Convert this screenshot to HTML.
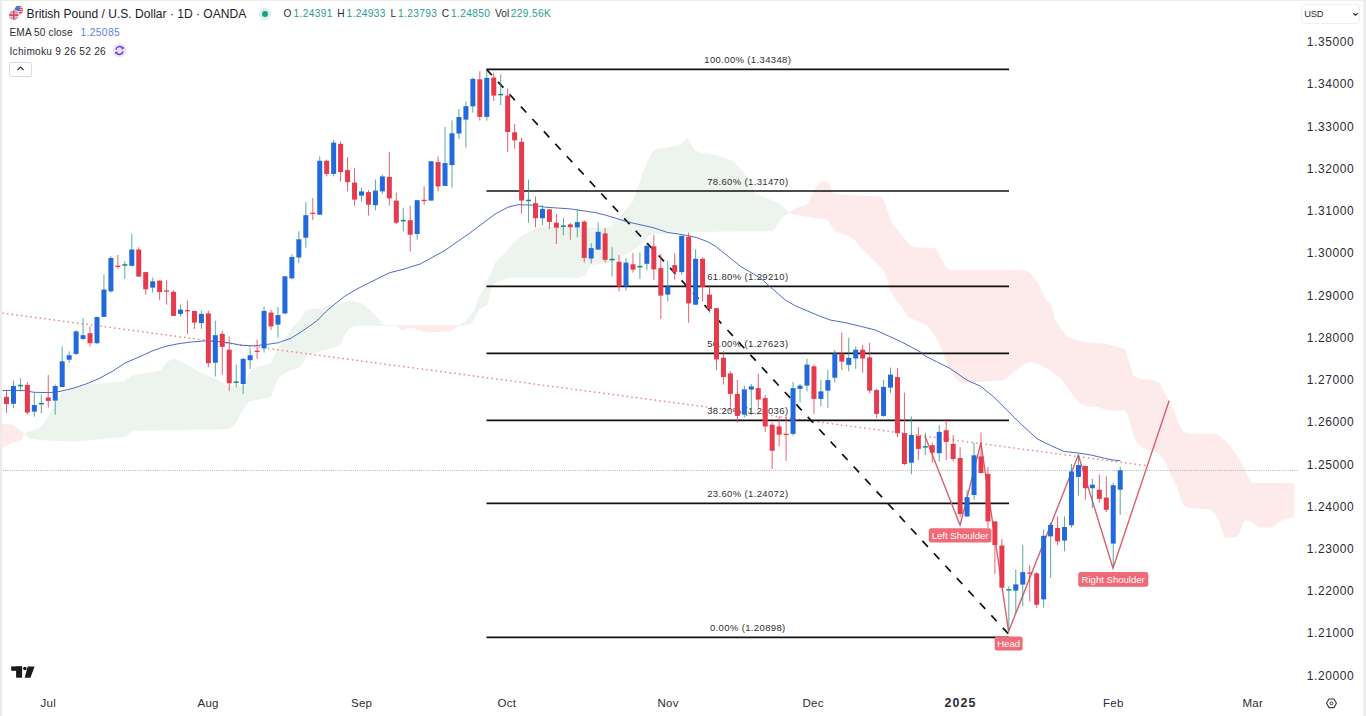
<!DOCTYPE html>
<html><head><meta charset="utf-8"><title>GBPUSD chart</title>
<style>
html,body{margin:0;padding:0;background:#fff;}
body{width:1366px;height:716px;overflow:hidden;position:relative;font-family:"Liberation Sans",sans-serif;color:#131722;}
#chart{position:absolute;left:0;top:0;}
.fib{font:9.5px "Liberation Sans",sans-serif;fill:#303030;letter-spacing:0.36px}
.plab{font:9.55px "Liberation Sans",sans-serif;fill:#fff;}
.abs{position:absolute;white-space:nowrap;line-height:1;}
.edgeL{position:absolute;left:0;top:0;width:2px;height:716px;background:#ebebeb}
.edgeR{position:absolute;left:1363px;top:0;width:3px;height:716px;background:#efefef}
.edgeT{position:absolute;left:0;top:0;width:1366px;height:1px;background:#ededed}
.title{left:26.6px;top:8.1px;font-size:12.05px;color:#20232b}
.leg{font-size:10.1px;letter-spacing:0.12px;color:#2a2d35}
.ohlc{font-size:10.2px;top:8.7px;color:#2a2d35}
.ohlc b{font-weight:normal;color:#2a9d8c;font-size:10.2px;letter-spacing:0.34px}
.ax{font-size:12px;letter-spacing:0.58px;color:#2a2d35;left:1306.8px}
.tm{font-size:11.5px;letter-spacing:0.25px;color:#2a2d35;top:697.8px}
</style></head><body>
<div class="edgeT"></div><div class="edgeL"></div><div class="edgeR"></div>
<svg id="chart" width="1366" height="716" viewBox="0 0 1366 716">
<polygon points="2.0,424.0 12.0,424.5 20.0,430.0 24.6,433.5 21.5,440.0 9.0,444.5 2.0,447.5" fill="#fdebeb"/>
<polygon points="24.6,433.1 40.0,427.6 46.0,420.0 57.0,400.0 61.5,392.2 89.0,384.6 107.6,383.0 123.0,381.5 132.0,375.3 160.0,370.7 167.6,361.5 173.7,358.4 184.5,363.6 200.0,372.3 215.0,378.4 227.6,386.1 243.0,386.1 249.0,372.3 255.0,367.6 270.6,363.6 273.3,357.8 276.5,351.6 281.0,343.5 286.6,335.8 293.3,326.8 297.8,322.3 301.1,318.4 303.3,314.0 305.6,310.6 310.0,308.9 317.9,308.4 323.5,307.8 329.0,306.1 335.6,305.1 348.1,301.3 353.5,301.0 361.9,303.5 370.2,310.2 376.9,316.9 382.0,323.6 385.3,325.0 385.3,325.8 355.1,325.8 348.4,328.7 343.4,337.0 340.0,345.6 307.5,355.3 300.0,367.6 286.0,372.3 278.3,378.4 270.6,396.9 249.0,401.5 243.0,409.2 235.0,424.5 229.0,429.1 203.0,430.1 132.0,430.7 126.0,436.8 92.0,439.9 77.0,441.4 46.0,440.5 29.0,438.4" fill="#ecf4ed"/>
<polygon points="385.3,325.0 459.1,325.0 459.1,325.6 455.7,327.8 450.7,331.2 430.6,332.4 420.5,331.2 413.8,327.8 407.0,328.7 402.0,330.4 397.0,325.8 385.3,325.6" fill="#fdebeb"/>
<polygon points="459.1,325.0 464.1,322.0 469.1,316.9 474.2,310.2 477.5,300.2 480.9,293.5 484.2,288.4 487.6,280.1 490.9,273.4 495.0,262.7 505.0,252.7 515.0,241.4 525.0,233.9 535.0,228.9 545.0,226.4 555.0,227.1 580.0,227.1 600.0,228.1 610.0,227.1 617.8,218.9 625.3,210.1 632.8,201.3 637.8,187.6 642.8,172.6 647.8,160.0 652.8,151.3 657.8,148.8 675.3,146.3 682.9,142.5 687.9,137.5 694.1,150.0 700.4,152.5 720.4,156.3 732.9,161.3 742.9,171.5 749.0,181.0 755.1,193.5 770.2,199.4 781.9,205.3 788.6,212.3 788.6,213.3 781.9,217.8 776.9,225.4 772.7,231.2 683.0,232.1 670.0,233.0 650.0,235.0 640.0,245.0 630.0,252.0 620.0,258.0 610.0,263.0 590.0,265.2 586.0,275.2 578.0,277.8 507.7,278.0 504.3,279.2 497.6,281.7 492.6,285.1 490.1,291.8 488.4,301.9 485.9,306.0 479.2,309.4 475.9,315.3 472.5,323.6 460.8,325.8" fill="#ecf4ed"/>
<polygon points="788.6,212.8 797.0,207.8 807.1,204.4 812.1,195.2 816.3,186.8 820.5,181.5 828.0,181.5 831.4,189.3 833.9,193.5 843.9,194.9 882.5,196.5 885.9,205.3 889.2,215.3 892.6,223.7 900.9,233.8 909.3,244.7 914.4,247.2 934.5,248.0 939.5,253.9 942.1,260.1 945.4,266.8 948.8,269.8 1020.9,270.1 1029.3,271.8 1034.3,277.7 1039.3,285.2 1044.3,296.9 1051.1,305.3 1054.4,317.1 1059.4,327.1 1066.1,335.5 1074.5,339.7 1087.6,342.5 1104.4,343.4 1117.8,346.7 1125.4,349.2 1127.9,358.4 1131.2,368.5 1133.7,376.0 1139.0,378.6 1154.2,380.5 1160.0,383.3 1163.7,390.9 1167.5,398.5 1171.3,405.2 1175.1,413.8 1179.0,424.2 1182.7,430.9 1188.5,433.8 1217.0,433.8 1222.7,438.5 1230.3,446.1 1236.0,453.7 1241.8,463.3 1246.5,473.7 1250.1,479.9 1252.0,483.0 1294.3,483.0 1294.3,517.9 1286.9,518.5 1280.6,521.0 1275.7,525.3 1271.9,527.8 1259.5,527.2 1254.5,523.5 1248.3,520.4 1244.5,521.0 1242.1,526.0 1239.6,533.4 1237.1,537.2 1225.3,537.8 1223.4,534.7 1220.9,527.2 1218.4,519.7 1214.7,513.5 1210.9,509.8 1199.7,508.5 1187.3,507.9 1182.9,504.8 1179.8,496.1 1177.3,487.4 1173.6,479.9 1168.6,470.0 1163.6,460.0 1158.0,453.7 1152.3,450.2 1148.0,450.0 1141.3,447.3 1136.3,442.3 1132.9,433.9 1130.4,423.8 1127.9,415.4 1124.5,410.4 1111.1,410.4 1104.4,409.6 1097.7,407.1 1087.6,406.2 1080.9,403.7 1075.9,398.7 1070.9,392.0 1065.9,385.3 1060.8,378.6 1052.4,371.9 1044.1,366.8 1037.4,363.5 1030.6,362.1 1023.9,364.3 1017.2,369.3 1010.5,375.2 1003.8,380.2 987.1,381.6 972.0,381.9 961.9,383.6 955.2,378.6 950.2,370.2 945.1,360.1 941.8,350.1 938.4,342.0 933.7,333.8 927.0,325.4 918.6,322.1 908.6,317.1 901.9,307.0 895.1,298.6 890.1,290.2 886.8,278.5 883.4,269.5 879.1,265.5 872.4,258.9 860.7,247.2 854.0,239.6 847.3,235.4 836.4,232.1 831.4,226.2 827.2,219.5 813.8,217.8 795.3,215.0 788.6,212.8" fill="#fdebeb"/>
<line x1="3" x2="1298" y1="470.5" y2="470.5" stroke="#8391aa" stroke-opacity="0.85" stroke-width="0.8" stroke-dasharray="1 1.2"/>
<line x1="3" y1="313.2" x2="1147.5" y2="465.8" stroke="#e68e8e" stroke-width="1.7" stroke-linecap="round" stroke-dasharray="0.1 4.6"/>
<line x1="486.5" x2="1009" y1="69.4" y2="69.4" stroke="#111" stroke-width="1.6"/>
<text x="747.8" y="63.4" text-anchor="middle" class="fib">100.00% (1.34348)</text>
<line x1="486.5" x2="1009" y1="191.0" y2="191.0" stroke="#111" stroke-width="1.6"/>
<text x="747.8" y="185.0" text-anchor="middle" class="fib">78.60% (1.31470)</text>
<line x1="486.5" x2="1009" y1="286.4" y2="286.4" stroke="#111" stroke-width="1.6"/>
<text x="747.8" y="280.4" text-anchor="middle" class="fib">61.80% (1.29210)</text>
<line x1="486.5" x2="1009" y1="353.4" y2="353.4" stroke="#111" stroke-width="1.6"/>
<text x="747.8" y="347.4" text-anchor="middle" class="fib">50.00% (1.27623)</text>
<line x1="486.5" x2="1009" y1="420.4" y2="420.4" stroke="#111" stroke-width="1.6"/>
<text x="747.8" y="414.4" text-anchor="middle" class="fib">38.20% (1.26036)</text>
<line x1="486.5" x2="1009" y1="503.4" y2="503.4" stroke="#111" stroke-width="1.6"/>
<text x="747.8" y="497.4" text-anchor="middle" class="fib">23.60% (1.24072)</text>
<line x1="486.5" x2="1009" y1="637.4" y2="637.4" stroke="#111" stroke-width="1.6"/>
<text x="747.8" y="631.4" text-anchor="middle" class="fib">0.00% (1.20898)</text>
<line x1="486.5" y1="69.4" x2="1008.5" y2="634" stroke="#111" stroke-width="1.7" stroke-dasharray="8 8.9"/>
<polyline points="2.5,390.4 25.0,390.6 34.0,392.3 50.0,392.6 59.0,391.6 69.0,389.3 75.0,387.7 88.0,383.3 100.0,378.0 113.0,371.0 125.0,363.0 140.0,356.6 152.0,351.0 165.1,346.5 178.0,343.8 190.3,342.1 205.4,340.8 216.0,341.3 228.0,342.7 240.6,345.2 253.2,345.9 265.7,344.6 278.3,342.7 290.9,338.3 300.4,332.3 311.0,325.1 317.8,320.0 325.5,312.0 331.6,306.7 344.2,296.6 356.7,289.1 369.3,282.8 381.9,276.5 389.4,272.8 402.0,269.6 420.2,264.0 445.3,250.2 470.3,232.7 495.3,213.9 507.9,207.2 517.9,204.7 532.9,205.2 545.4,207.2 570.5,208.9 595.3,212.6 605.1,215.0 627.7,221.9 652.9,227.6 668.0,232.6 678.0,233.9 688.1,235.7 696.9,237.6 708.2,242.0 715.7,246.4 728.3,256.5 740.9,266.6 753.5,274.1 761.0,278.5 770.3,287.0 785.0,299.8 795.3,305.8 820.4,316.4 830.2,320.0 845.4,322.7 855.2,325.0 875.3,330.0 900.3,341.3 920.0,351.7 925.0,355.9 936.8,361.8 950.2,368.5 966.9,380.2 980.4,386.1 993.8,397.0 1007.2,410.4 1020.6,423.8 1037.4,438.9 1050.8,445.6 1064.2,451.5 1077.6,452.9 1091.0,455.0 1104.4,458.2 1112.8,460.0 1120.3,460.6" fill="none" stroke="#3b5bbd" stroke-width="0.9" stroke-linejoin="round"/>
<polyline points="925.0,436.3 960.1,525.2 980.9,442.6 1008.6,631.5 1078.3,455.1 1113.0,568.1 1169.2,400.5" fill="none" stroke="#d9606c" stroke-width="1.4" stroke-linejoin="miter"/>
<line x1="6.50" x2="6.50" y1="390.2" y2="412.8" stroke="#e63a4d" stroke-width="1" stroke-opacity="0.8"/>
<rect x="4.00" y="396.8" width="5" height="7.2" fill="#e63a4d"/>
<line x1="13.46" x2="13.46" y1="380.5" y2="407.8" stroke="#2f9684" stroke-width="1" stroke-opacity="0.8"/>
<rect x="10.96" y="386.0" width="5" height="17.8" fill="#2269dc"/>
<line x1="20.42" x2="20.42" y1="378.2" y2="391.4" stroke="#2f9684" stroke-width="1" stroke-opacity="0.8"/>
<rect x="17.92" y="384.8" width="5" height="1.5" fill="#1d857a"/>
<line x1="27.38" x2="27.38" y1="382.4" y2="414.7" stroke="#e63a4d" stroke-width="1" stroke-opacity="0.8"/>
<rect x="24.88" y="384.9" width="5" height="27.7" fill="#e63a4d"/>
<line x1="34.34" x2="34.34" y1="393.0" y2="416.6" stroke="#2f9684" stroke-width="1" stroke-opacity="0.8"/>
<rect x="31.84" y="405.0" width="5" height="6.6" fill="#2269dc"/>
<line x1="41.30" x2="41.30" y1="394.6" y2="413.4" stroke="#2f9684" stroke-width="1" stroke-opacity="0.8"/>
<rect x="38.80" y="402.9" width="5" height="1.5" fill="#1d857a"/>
<line x1="48.26" x2="48.26" y1="375.1" y2="407.5" stroke="#e63a4d" stroke-width="1" stroke-opacity="0.8"/>
<rect x="45.76" y="397.5" width="5" height="3.4" fill="#e63a4d"/>
<line x1="55.22" x2="55.22" y1="384.5" y2="414.7" stroke="#2f9684" stroke-width="1" stroke-opacity="0.8"/>
<rect x="52.72" y="386.0" width="5" height="14.6" fill="#2269dc"/>
<line x1="62.19" x2="62.19" y1="346.4" y2="387.0" stroke="#2f9684" stroke-width="1" stroke-opacity="0.8"/>
<rect x="59.69" y="361.3" width="5" height="25.7" fill="#2269dc"/>
<line x1="69.15" x2="69.15" y1="351.4" y2="362.7" stroke="#2f9684" stroke-width="1" stroke-opacity="0.8"/>
<rect x="66.65" y="355.2" width="5" height="4.5" fill="#2269dc"/>
<line x1="76.11" x2="76.11" y1="330.2" y2="355.2" stroke="#2f9684" stroke-width="1" stroke-opacity="0.8"/>
<rect x="73.61" y="331.4" width="5" height="22.5" fill="#2269dc"/>
<line x1="83.07" x2="83.07" y1="318.1" y2="340.2" stroke="#2f9684" stroke-width="1" stroke-opacity="0.8"/>
<rect x="80.57" y="335.2" width="5" height="3.7" fill="#2269dc"/>
<line x1="90.03" x2="90.03" y1="326.4" y2="346.4" stroke="#e63a4d" stroke-width="1" stroke-opacity="0.8"/>
<rect x="87.53" y="333.2" width="5" height="10.0" fill="#e63a4d"/>
<line x1="96.99" x2="96.99" y1="316.4" y2="343.9" stroke="#2f9684" stroke-width="1" stroke-opacity="0.8"/>
<rect x="94.49" y="317.1" width="5" height="26.1" fill="#2269dc"/>
<line x1="103.95" x2="103.95" y1="274.6" y2="316.9" stroke="#2f9684" stroke-width="1" stroke-opacity="0.8"/>
<rect x="101.45" y="289.6" width="5" height="27.3" fill="#2269dc"/>
<line x1="110.91" x2="110.91" y1="256.3" y2="292.6" stroke="#2f9684" stroke-width="1" stroke-opacity="0.8"/>
<rect x="108.41" y="258.0" width="5" height="33.3" fill="#2269dc"/>
<line x1="117.87" x2="117.87" y1="255.0" y2="268.8" stroke="#e63a4d" stroke-width="1" stroke-opacity="0.8"/>
<rect x="115.37" y="265.7" width="5" height="1.3" fill="#e63a4d"/>
<line x1="124.83" x2="124.83" y1="261.3" y2="278.8" stroke="#2f9684" stroke-width="1" stroke-opacity="0.8"/>
<rect x="122.33" y="264.2" width="5" height="1.5" fill="#1d857a"/>
<line x1="131.79" x2="131.79" y1="233.8" y2="265.8" stroke="#2f9684" stroke-width="1" stroke-opacity="0.8"/>
<rect x="129.29" y="249.5" width="5" height="16.3" fill="#2269dc"/>
<line x1="138.75" x2="138.75" y1="247.5" y2="276.6" stroke="#e63a4d" stroke-width="1" stroke-opacity="0.8"/>
<rect x="136.25" y="249.5" width="5" height="27.1" fill="#e63a4d"/>
<line x1="145.71" x2="145.71" y1="272.1" y2="294.6" stroke="#e63a4d" stroke-width="1" stroke-opacity="0.8"/>
<rect x="143.21" y="272.1" width="5" height="17.2" fill="#e63a4d"/>
<line x1="152.67" x2="152.67" y1="277.6" y2="292.6" stroke="#2f9684" stroke-width="1" stroke-opacity="0.8"/>
<rect x="150.17" y="281.3" width="5" height="6.3" fill="#2269dc"/>
<line x1="159.64" x2="159.64" y1="280.6" y2="300.1" stroke="#e63a4d" stroke-width="1" stroke-opacity="0.8"/>
<rect x="157.14" y="280.6" width="5" height="11.5" fill="#e63a4d"/>
<line x1="166.60" x2="166.60" y1="280.1" y2="304.6" stroke="#e63a4d" stroke-width="1" stroke-opacity="0.8"/>
<rect x="164.10" y="290.4" width="5" height="1.3" fill="#e63a4d"/>
<line x1="173.56" x2="173.56" y1="290.1" y2="315.9" stroke="#e63a4d" stroke-width="1" stroke-opacity="0.8"/>
<rect x="171.06" y="291.8" width="5" height="24.1" fill="#e63a4d"/>
<line x1="180.52" x2="180.52" y1="304.6" y2="316.4" stroke="#2f9684" stroke-width="1" stroke-opacity="0.8"/>
<rect x="178.02" y="309.6" width="5" height="4.3" fill="#2269dc"/>
<line x1="187.48" x2="187.48" y1="300.6" y2="333.9" stroke="#e63a4d" stroke-width="1" stroke-opacity="0.8"/>
<rect x="184.98" y="310.1" width="5" height="1.3" fill="#e63a4d"/>
<line x1="194.44" x2="194.44" y1="310.9" y2="328.9" stroke="#e63a4d" stroke-width="1" stroke-opacity="0.8"/>
<rect x="191.94" y="310.9" width="5" height="11.7" fill="#e63a4d"/>
<line x1="201.40" x2="201.40" y1="310.6" y2="328.9" stroke="#2f9684" stroke-width="1" stroke-opacity="0.8"/>
<rect x="198.90" y="313.9" width="5" height="9.2" fill="#2269dc"/>
<line x1="208.36" x2="208.36" y1="310.6" y2="367.2" stroke="#e63a4d" stroke-width="1" stroke-opacity="0.8"/>
<rect x="205.86" y="313.4" width="5" height="49.8" fill="#e63a4d"/>
<line x1="215.32" x2="215.32" y1="320.6" y2="376.5" stroke="#2f9684" stroke-width="1" stroke-opacity="0.8"/>
<rect x="212.82" y="335.2" width="5" height="27.5" fill="#2269dc"/>
<line x1="222.28" x2="222.28" y1="330.9" y2="374.7" stroke="#e63a4d" stroke-width="1" stroke-opacity="0.8"/>
<rect x="219.78" y="333.9" width="5" height="13.0" fill="#e63a4d"/>
<line x1="229.24" x2="229.24" y1="336.4" y2="390.7" stroke="#e63a4d" stroke-width="1" stroke-opacity="0.8"/>
<rect x="226.74" y="349.7" width="5" height="33.5" fill="#e63a4d"/>
<line x1="236.20" x2="236.20" y1="364.7" y2="387.2" stroke="#2f9684" stroke-width="1" stroke-opacity="0.8"/>
<rect x="233.70" y="381.4" width="5" height="1.5" fill="#1d857a"/>
<line x1="243.16" x2="243.16" y1="357.7" y2="394.0" stroke="#2f9684" stroke-width="1" stroke-opacity="0.8"/>
<rect x="240.66" y="358.9" width="5" height="25.1" fill="#2269dc"/>
<line x1="250.12" x2="250.12" y1="348.2" y2="369.0" stroke="#2f9684" stroke-width="1" stroke-opacity="0.8"/>
<rect x="247.62" y="355.2" width="5" height="5.0" fill="#2269dc"/>
<line x1="257.09" x2="257.09" y1="339.7" y2="358.9" stroke="#e63a4d" stroke-width="1" stroke-opacity="0.8"/>
<rect x="254.59" y="350.7" width="5" height="1.3" fill="#e63a4d"/>
<line x1="264.05" x2="264.05" y1="306.4" y2="352.7" stroke="#2f9684" stroke-width="1" stroke-opacity="0.8"/>
<rect x="261.55" y="310.9" width="5" height="37.5" fill="#2269dc"/>
<line x1="271.01" x2="271.01" y1="309.6" y2="330.2" stroke="#e63a4d" stroke-width="1" stroke-opacity="0.8"/>
<rect x="268.51" y="312.6" width="5" height="13.8" fill="#e63a4d"/>
<line x1="277.97" x2="277.97" y1="307.1" y2="337.7" stroke="#2f9684" stroke-width="1" stroke-opacity="0.8"/>
<rect x="275.47" y="315.1" width="5" height="9.5" fill="#2269dc"/>
<line x1="284.93" x2="284.93" y1="276.3" y2="314.4" stroke="#2f9684" stroke-width="1" stroke-opacity="0.8"/>
<rect x="282.43" y="276.3" width="5" height="37.1" fill="#2269dc"/>
<line x1="291.89" x2="291.89" y1="254.3" y2="279.3" stroke="#2f9684" stroke-width="1" stroke-opacity="0.8"/>
<rect x="289.39" y="257.0" width="5" height="21.3" fill="#2269dc"/>
<line x1="298.85" x2="298.85" y1="231.3" y2="263.3" stroke="#2f9684" stroke-width="1" stroke-opacity="0.8"/>
<rect x="296.35" y="239.3" width="5" height="18.2" fill="#2269dc"/>
<line x1="305.81" x2="305.81" y1="202.2" y2="247.7" stroke="#2f9684" stroke-width="1" stroke-opacity="0.8"/>
<rect x="303.31" y="215.2" width="5" height="22.5" fill="#2269dc"/>
<line x1="312.77" x2="312.77" y1="198.1" y2="220.2" stroke="#e63a4d" stroke-width="1" stroke-opacity="0.8"/>
<rect x="310.27" y="212.7" width="5" height="1.3" fill="#e63a4d"/>
<line x1="319.73" x2="319.73" y1="156.3" y2="214.7" stroke="#2f9684" stroke-width="1" stroke-opacity="0.8"/>
<rect x="317.23" y="160.8" width="5" height="53.9" fill="#2269dc"/>
<line x1="326.69" x2="326.69" y1="159.6" y2="176.4" stroke="#e63a4d" stroke-width="1" stroke-opacity="0.8"/>
<rect x="324.19" y="160.8" width="5" height="13.1" fill="#e63a4d"/>
<line x1="333.65" x2="333.65" y1="140.0" y2="176.4" stroke="#2f9684" stroke-width="1" stroke-opacity="0.8"/>
<rect x="331.15" y="142.6" width="5" height="31.3" fill="#2269dc"/>
<line x1="340.61" x2="340.61" y1="141.3" y2="181.4" stroke="#e63a4d" stroke-width="1" stroke-opacity="0.8"/>
<rect x="338.11" y="143.8" width="5" height="28.3" fill="#e63a4d"/>
<line x1="347.57" x2="347.57" y1="157.1" y2="191.4" stroke="#e63a4d" stroke-width="1" stroke-opacity="0.8"/>
<rect x="345.07" y="170.1" width="5" height="12.0" fill="#e63a4d"/>
<line x1="354.54" x2="354.54" y1="168.1" y2="205.7" stroke="#e63a4d" stroke-width="1" stroke-opacity="0.8"/>
<rect x="352.04" y="182.6" width="5" height="17.0" fill="#e63a4d"/>
<line x1="361.50" x2="361.50" y1="187.6" y2="201.4" stroke="#2f9684" stroke-width="1" stroke-opacity="0.8"/>
<rect x="359.00" y="191.4" width="5" height="4.2" fill="#2269dc"/>
<line x1="368.46" x2="368.46" y1="190.1" y2="215.7" stroke="#e63a4d" stroke-width="1" stroke-opacity="0.8"/>
<rect x="365.96" y="192.1" width="5" height="12.6" fill="#e63a4d"/>
<line x1="375.42" x2="375.42" y1="179.6" y2="210.2" stroke="#2f9684" stroke-width="1" stroke-opacity="0.8"/>
<rect x="372.92" y="190.6" width="5" height="14.6" fill="#2269dc"/>
<line x1="382.38" x2="382.38" y1="174.6" y2="193.9" stroke="#2f9684" stroke-width="1" stroke-opacity="0.8"/>
<rect x="379.88" y="176.4" width="5" height="15.0" fill="#2269dc"/>
<line x1="389.34" x2="389.34" y1="152.1" y2="205.7" stroke="#e63a4d" stroke-width="1" stroke-opacity="0.8"/>
<rect x="386.84" y="176.9" width="5" height="21.5" fill="#e63a4d"/>
<line x1="396.30" x2="396.30" y1="192.6" y2="223.9" stroke="#e63a4d" stroke-width="1" stroke-opacity="0.8"/>
<rect x="393.80" y="200.6" width="5" height="22.1" fill="#e63a4d"/>
<line x1="403.26" x2="403.26" y1="207.7" y2="231.4" stroke="#2f9684" stroke-width="1" stroke-opacity="0.8"/>
<rect x="400.76" y="219.9" width="5" height="1.5" fill="#1d857a"/>
<line x1="410.22" x2="410.22" y1="205.7" y2="251.5" stroke="#e63a4d" stroke-width="1" stroke-opacity="0.8"/>
<rect x="407.72" y="220.2" width="5" height="14.5" fill="#e63a4d"/>
<line x1="417.18" x2="417.18" y1="200.2" y2="239.7" stroke="#2f9684" stroke-width="1" stroke-opacity="0.8"/>
<rect x="414.68" y="200.2" width="5" height="33.8" fill="#2269dc"/>
<line x1="424.14" x2="424.14" y1="186.4" y2="204.7" stroke="#e63a4d" stroke-width="1" stroke-opacity="0.8"/>
<rect x="421.64" y="199.8" width="5" height="1.3" fill="#e63a4d"/>
<line x1="431.10" x2="431.10" y1="161.3" y2="200.6" stroke="#2f9684" stroke-width="1" stroke-opacity="0.8"/>
<rect x="428.60" y="161.3" width="5" height="39.3" fill="#2269dc"/>
<line x1="438.06" x2="438.06" y1="156.3" y2="191.4" stroke="#e63a4d" stroke-width="1" stroke-opacity="0.8"/>
<rect x="435.56" y="162.1" width="5" height="24.3" fill="#e63a4d"/>
<line x1="445.02" x2="445.02" y1="127.0" y2="185.9" stroke="#2f9684" stroke-width="1" stroke-opacity="0.8"/>
<rect x="442.52" y="163.1" width="5" height="22.8" fill="#2269dc"/>
<line x1="451.98" x2="451.98" y1="120.4" y2="187.6" stroke="#2f9684" stroke-width="1" stroke-opacity="0.8"/>
<rect x="449.48" y="133.3" width="5" height="31.8" fill="#2269dc"/>
<line x1="458.95" x2="458.95" y1="109.0" y2="139.0" stroke="#2f9684" stroke-width="1" stroke-opacity="0.8"/>
<rect x="456.45" y="117.0" width="5" height="16.5" fill="#2269dc"/>
<line x1="465.91" x2="465.91" y1="101.5" y2="147.6" stroke="#2f9684" stroke-width="1" stroke-opacity="0.8"/>
<rect x="463.41" y="106.2" width="5" height="13.4" fill="#2269dc"/>
<line x1="472.87" x2="472.87" y1="77.6" y2="112.6" stroke="#2f9684" stroke-width="1" stroke-opacity="0.8"/>
<rect x="470.37" y="78.9" width="5" height="27.4" fill="#2269dc"/>
<line x1="479.83" x2="479.83" y1="71.3" y2="120.6" stroke="#e63a4d" stroke-width="1" stroke-opacity="0.8"/>
<rect x="477.33" y="79.3" width="5" height="37.6" fill="#e63a4d"/>
<line x1="486.79" x2="486.79" y1="69.5" y2="120.6" stroke="#2f9684" stroke-width="1" stroke-opacity="0.8"/>
<rect x="484.29" y="77.9" width="5" height="39.0" fill="#2269dc"/>
<line x1="493.75" x2="493.75" y1="72.6" y2="100.9" stroke="#e63a4d" stroke-width="1" stroke-opacity="0.8"/>
<rect x="491.25" y="77.6" width="5" height="18.0" fill="#e63a4d"/>
<line x1="500.71" x2="500.71" y1="74.5" y2="105.0" stroke="#2f9684" stroke-width="1" stroke-opacity="0.8"/>
<rect x="498.21" y="93.8" width="5" height="1.5" fill="#1d857a"/>
<line x1="507.67" x2="507.67" y1="88.3" y2="152.1" stroke="#e63a4d" stroke-width="1" stroke-opacity="0.8"/>
<rect x="505.17" y="95.6" width="5" height="36.4" fill="#e63a4d"/>
<line x1="514.63" x2="514.63" y1="124.0" y2="148.8" stroke="#e63a4d" stroke-width="1" stroke-opacity="0.8"/>
<rect x="512.13" y="132.3" width="5" height="8.0" fill="#e63a4d"/>
<line x1="521.59" x2="521.59" y1="137.5" y2="213.9" stroke="#e63a4d" stroke-width="1" stroke-opacity="0.8"/>
<rect x="519.09" y="141.8" width="5" height="58.8" fill="#e63a4d"/>
<line x1="528.55" x2="528.55" y1="179.6" y2="222.7" stroke="#2f9684" stroke-width="1" stroke-opacity="0.8"/>
<rect x="526.05" y="199.7" width="5" height="1.5" fill="#1d857a"/>
<line x1="535.51" x2="535.51" y1="196.4" y2="227.2" stroke="#e63a4d" stroke-width="1" stroke-opacity="0.8"/>
<rect x="533.01" y="203.2" width="5" height="15.0" fill="#e63a4d"/>
<line x1="542.47" x2="542.47" y1="205.2" y2="225.2" stroke="#2f9684" stroke-width="1" stroke-opacity="0.8"/>
<rect x="539.97" y="208.9" width="5" height="9.3" fill="#2269dc"/>
<line x1="549.43" x2="549.43" y1="209.4" y2="228.9" stroke="#e63a4d" stroke-width="1" stroke-opacity="0.8"/>
<rect x="546.93" y="209.4" width="5" height="12.5" fill="#e63a4d"/>
<line x1="556.40" x2="556.40" y1="213.9" y2="244.0" stroke="#e63a4d" stroke-width="1" stroke-opacity="0.8"/>
<rect x="553.90" y="222.7" width="5" height="5.0" fill="#e63a4d"/>
<line x1="563.36" x2="563.36" y1="217.7" y2="235.2" stroke="#2f9684" stroke-width="1" stroke-opacity="0.8"/>
<rect x="560.86" y="225.4" width="5" height="1.5" fill="#1d857a"/>
<line x1="570.32" x2="570.32" y1="222.7" y2="239.7" stroke="#e63a4d" stroke-width="1" stroke-opacity="0.8"/>
<rect x="567.82" y="224.4" width="5" height="2.8" fill="#e63a4d"/>
<line x1="577.28" x2="577.28" y1="209.2" y2="237.4" stroke="#2f9684" stroke-width="1" stroke-opacity="0.8"/>
<rect x="574.78" y="222.1" width="5" height="5.2" fill="#2269dc"/>
<line x1="584.24" x2="584.24" y1="220.1" y2="262.4" stroke="#e63a4d" stroke-width="1" stroke-opacity="0.8"/>
<rect x="581.74" y="221.6" width="5" height="36.3" fill="#e63a4d"/>
<line x1="591.20" x2="591.20" y1="243.1" y2="263.5" stroke="#2f9684" stroke-width="1" stroke-opacity="0.8"/>
<rect x="588.70" y="248.1" width="5" height="10.4" fill="#2269dc"/>
<line x1="598.16" x2="598.16" y1="222.3" y2="249.6" stroke="#2f9684" stroke-width="1" stroke-opacity="0.8"/>
<rect x="595.66" y="231.8" width="5" height="17.8" fill="#2269dc"/>
<line x1="605.12" x2="605.12" y1="228.2" y2="262.4" stroke="#e63a4d" stroke-width="1" stroke-opacity="0.8"/>
<rect x="602.62" y="233.4" width="5" height="26.4" fill="#e63a4d"/>
<line x1="612.08" x2="612.08" y1="247.1" y2="276.4" stroke="#2f9684" stroke-width="1" stroke-opacity="0.8"/>
<rect x="609.58" y="258.8" width="5" height="1.5" fill="#1d857a"/>
<line x1="619.04" x2="619.04" y1="255.1" y2="291.4" stroke="#e63a4d" stroke-width="1" stroke-opacity="0.8"/>
<rect x="616.54" y="261.8" width="5" height="24.6" fill="#e63a4d"/>
<line x1="626.00" x2="626.00" y1="258.1" y2="290.6" stroke="#2f9684" stroke-width="1" stroke-opacity="0.8"/>
<rect x="623.50" y="262.6" width="5" height="23.8" fill="#2269dc"/>
<line x1="632.96" x2="632.96" y1="253.1" y2="272.6" stroke="#e63a4d" stroke-width="1" stroke-opacity="0.8"/>
<rect x="630.46" y="264.3" width="5" height="5.3" fill="#e63a4d"/>
<line x1="639.92" x2="639.92" y1="252.6" y2="278.9" stroke="#2f9684" stroke-width="1" stroke-opacity="0.8"/>
<rect x="637.42" y="265.9" width="5" height="1.5" fill="#1d857a"/>
<line x1="646.88" x2="646.88" y1="243.8" y2="270.1" stroke="#2f9684" stroke-width="1" stroke-opacity="0.8"/>
<rect x="644.38" y="245.8" width="5" height="18.0" fill="#2269dc"/>
<line x1="653.85" x2="653.85" y1="235.1" y2="280.1" stroke="#e63a4d" stroke-width="1" stroke-opacity="0.8"/>
<rect x="651.35" y="246.3" width="5" height="23.1" fill="#e63a4d"/>
<line x1="660.81" x2="660.81" y1="253.8" y2="318.9" stroke="#e63a4d" stroke-width="1" stroke-opacity="0.8"/>
<rect x="658.31" y="268.1" width="5" height="27.5" fill="#e63a4d"/>
<line x1="667.77" x2="667.77" y1="260.8" y2="301.4" stroke="#2f9684" stroke-width="1" stroke-opacity="0.8"/>
<rect x="665.27" y="286.4" width="5" height="8.2" fill="#2269dc"/>
<line x1="674.73" x2="674.73" y1="253.3" y2="279.6" stroke="#e63a4d" stroke-width="1" stroke-opacity="0.8"/>
<rect x="672.23" y="265.1" width="5" height="7.0" fill="#e63a4d"/>
<line x1="681.69" x2="681.69" y1="235.8" y2="275.1" stroke="#2f9684" stroke-width="1" stroke-opacity="0.8"/>
<rect x="679.19" y="235.8" width="5" height="36.3" fill="#2269dc"/>
<line x1="688.65" x2="688.65" y1="232.5" y2="322.7" stroke="#e63a4d" stroke-width="1" stroke-opacity="0.8"/>
<rect x="686.15" y="236.8" width="5" height="66.6" fill="#e63a4d"/>
<line x1="695.61" x2="695.61" y1="249.3" y2="304.7" stroke="#2f9684" stroke-width="1" stroke-opacity="0.8"/>
<rect x="693.11" y="258.8" width="5" height="45.9" fill="#2269dc"/>
<line x1="702.57" x2="702.57" y1="257.1" y2="301.4" stroke="#e63a4d" stroke-width="1" stroke-opacity="0.8"/>
<rect x="700.07" y="258.8" width="5" height="28.3" fill="#e63a4d"/>
<line x1="709.53" x2="709.53" y1="285.1" y2="312.7" stroke="#e63a4d" stroke-width="1" stroke-opacity="0.8"/>
<rect x="707.03" y="294.6" width="5" height="14.3" fill="#e63a4d"/>
<line x1="716.49" x2="716.49" y1="308.2" y2="370.2" stroke="#e63a4d" stroke-width="1" stroke-opacity="0.8"/>
<rect x="713.99" y="308.2" width="5" height="51.3" fill="#e63a4d"/>
<line x1="723.45" x2="723.45" y1="351.0" y2="384.6" stroke="#e63a4d" stroke-width="1" stroke-opacity="0.8"/>
<rect x="720.95" y="357.8" width="5" height="19.2" fill="#e63a4d"/>
<line x1="730.41" x2="730.41" y1="371.3" y2="407.6" stroke="#e63a4d" stroke-width="1" stroke-opacity="0.8"/>
<rect x="727.91" y="373.4" width="5" height="20.5" fill="#e63a4d"/>
<line x1="737.37" x2="737.37" y1="380.0" y2="422.7" stroke="#e63a4d" stroke-width="1" stroke-opacity="0.8"/>
<rect x="734.87" y="393.9" width="5" height="22.0" fill="#e63a4d"/>
<line x1="744.33" x2="744.33" y1="385.6" y2="417.6" stroke="#2f9684" stroke-width="1" stroke-opacity="0.8"/>
<rect x="741.83" y="389.4" width="5" height="25.2" fill="#2269dc"/>
<line x1="751.29" x2="751.29" y1="383.8" y2="415.0" stroke="#2f9684" stroke-width="1" stroke-opacity="0.8"/>
<rect x="748.79" y="386.4" width="5" height="3.2" fill="#2269dc"/>
<line x1="758.26" x2="758.26" y1="373.8" y2="407.6" stroke="#e63a4d" stroke-width="1" stroke-opacity="0.8"/>
<rect x="755.76" y="388.1" width="5" height="11.5" fill="#e63a4d"/>
<line x1="765.22" x2="765.22" y1="395.1" y2="432.2" stroke="#e63a4d" stroke-width="1" stroke-opacity="0.8"/>
<rect x="762.72" y="398.1" width="5" height="28.3" fill="#e63a4d"/>
<line x1="772.18" x2="772.18" y1="422.7" y2="469.0" stroke="#e63a4d" stroke-width="1" stroke-opacity="0.8"/>
<rect x="769.68" y="424.7" width="5" height="26.0" fill="#e63a4d"/>
<line x1="779.14" x2="779.14" y1="416.4" y2="446.4" stroke="#e63a4d" stroke-width="1" stroke-opacity="0.8"/>
<rect x="776.64" y="426.4" width="5" height="8.3" fill="#e63a4d"/>
<line x1="786.10" x2="786.10" y1="416.4" y2="460.7" stroke="#e63a4d" stroke-width="1" stroke-opacity="0.8"/>
<rect x="783.60" y="433.8" width="5" height="1.3" fill="#e63a4d"/>
<line x1="793.06" x2="793.06" y1="382.1" y2="435.7" stroke="#2f9684" stroke-width="1" stroke-opacity="0.8"/>
<rect x="790.56" y="388.1" width="5" height="45.8" fill="#2269dc"/>
<line x1="800.02" x2="800.02" y1="383.8" y2="402.6" stroke="#2f9684" stroke-width="1" stroke-opacity="0.8"/>
<rect x="797.52" y="385.6" width="5" height="3.3" fill="#2269dc"/>
<line x1="806.98" x2="806.98" y1="358.8" y2="391.4" stroke="#2f9684" stroke-width="1" stroke-opacity="0.8"/>
<rect x="804.48" y="364.6" width="5" height="21.0" fill="#2269dc"/>
<line x1="813.94" x2="813.94" y1="364.6" y2="413.9" stroke="#e63a4d" stroke-width="1" stroke-opacity="0.8"/>
<rect x="811.44" y="366.3" width="5" height="32.6" fill="#e63a4d"/>
<line x1="820.90" x2="820.90" y1="380.1" y2="406.4" stroke="#2f9684" stroke-width="1" stroke-opacity="0.8"/>
<rect x="818.40" y="391.4" width="5" height="7.5" fill="#2269dc"/>
<line x1="827.86" x2="827.86" y1="370.1" y2="408.1" stroke="#2f9684" stroke-width="1" stroke-opacity="0.8"/>
<rect x="825.36" y="380.1" width="5" height="10.5" fill="#2269dc"/>
<line x1="834.82" x2="834.82" y1="350.0" y2="382.6" stroke="#2f9684" stroke-width="1" stroke-opacity="0.8"/>
<rect x="832.32" y="353.5" width="5" height="24.2" fill="#2269dc"/>
<line x1="841.78" x2="841.78" y1="332.6" y2="370.2" stroke="#e63a4d" stroke-width="1" stroke-opacity="0.8"/>
<rect x="839.28" y="353.6" width="5" height="8.0" fill="#e63a4d"/>
<line x1="848.74" x2="848.74" y1="337.8" y2="371.4" stroke="#2f9684" stroke-width="1" stroke-opacity="0.8"/>
<rect x="846.24" y="357.9" width="5" height="7.0" fill="#2269dc"/>
<line x1="855.71" x2="855.71" y1="346.4" y2="368.9" stroke="#2f9684" stroke-width="1" stroke-opacity="0.8"/>
<rect x="853.21" y="349.7" width="5" height="8.8" fill="#2269dc"/>
<line x1="862.67" x2="862.67" y1="345.1" y2="372.7" stroke="#e63a4d" stroke-width="1" stroke-opacity="0.8"/>
<rect x="860.17" y="349.7" width="5" height="8.8" fill="#e63a4d"/>
<line x1="869.63" x2="869.63" y1="342.8" y2="393.1" stroke="#e63a4d" stroke-width="1" stroke-opacity="0.8"/>
<rect x="867.13" y="357.4" width="5" height="33.2" fill="#e63a4d"/>
<line x1="876.59" x2="876.59" y1="388.9" y2="418.1" stroke="#e63a4d" stroke-width="1" stroke-opacity="0.8"/>
<rect x="874.09" y="390.1" width="5" height="23.8" fill="#e63a4d"/>
<line x1="883.55" x2="883.55" y1="380.1" y2="417.1" stroke="#2f9684" stroke-width="1" stroke-opacity="0.8"/>
<rect x="881.05" y="386.9" width="5" height="29.0" fill="#2269dc"/>
<line x1="890.51" x2="890.51" y1="367.5" y2="393.1" stroke="#2f9684" stroke-width="1" stroke-opacity="0.8"/>
<rect x="888.01" y="374.6" width="5" height="13.0" fill="#2269dc"/>
<line x1="897.47" x2="897.47" y1="368.1" y2="437.2" stroke="#e63a4d" stroke-width="1" stroke-opacity="0.8"/>
<rect x="894.97" y="377.1" width="5" height="56.1" fill="#e63a4d"/>
<line x1="904.43" x2="904.43" y1="392.6" y2="465.2" stroke="#e63a4d" stroke-width="1" stroke-opacity="0.8"/>
<rect x="901.93" y="433.2" width="5" height="30.8" fill="#e63a4d"/>
<line x1="911.39" x2="911.39" y1="416.4" y2="474.3" stroke="#2f9684" stroke-width="1" stroke-opacity="0.8"/>
<rect x="908.89" y="435.0" width="5" height="27.7" fill="#2269dc"/>
<line x1="918.35" x2="918.35" y1="427.2" y2="460.2" stroke="#e63a4d" stroke-width="1" stroke-opacity="0.8"/>
<rect x="915.85" y="435.7" width="5" height="13.2" fill="#e63a4d"/>
<line x1="925.31" x2="925.31" y1="432.7" y2="455.2" stroke="#2f9684" stroke-width="1" stroke-opacity="0.8"/>
<rect x="922.81" y="446.1" width="5" height="1.5" fill="#1d857a"/>
<line x1="932.27" x2="932.27" y1="442.7" y2="462.7" stroke="#e63a4d" stroke-width="1" stroke-opacity="0.8"/>
<rect x="929.77" y="445.2" width="5" height="7.5" fill="#e63a4d"/>
<line x1="939.23" x2="939.23" y1="425.2" y2="461.5" stroke="#2f9684" stroke-width="1" stroke-opacity="0.8"/>
<rect x="936.73" y="431.9" width="5" height="21.3" fill="#2269dc"/>
<line x1="946.19" x2="946.19" y1="418.9" y2="460.2" stroke="#e63a4d" stroke-width="1" stroke-opacity="0.8"/>
<rect x="943.69" y="430.2" width="5" height="11.7" fill="#e63a4d"/>
<line x1="953.16" x2="953.16" y1="435.2" y2="461.5" stroke="#e63a4d" stroke-width="1" stroke-opacity="0.8"/>
<rect x="950.66" y="443.9" width="5" height="15.1" fill="#e63a4d"/>
<line x1="960.12" x2="960.12" y1="447.1" y2="517.2" stroke="#e63a4d" stroke-width="1" stroke-opacity="0.8"/>
<rect x="957.62" y="458.0" width="5" height="56.0" fill="#e63a4d"/>
<line x1="967.08" x2="967.08" y1="490.2" y2="516.5" stroke="#2f9684" stroke-width="1" stroke-opacity="0.8"/>
<rect x="964.58" y="497.2" width="5" height="19.3" fill="#2269dc"/>
<line x1="974.04" x2="974.04" y1="442.6" y2="499.7" stroke="#2f9684" stroke-width="1" stroke-opacity="0.8"/>
<rect x="971.54" y="455.3" width="5" height="39.7" fill="#2269dc"/>
<line x1="981.00" x2="981.00" y1="432.4" y2="473.1" stroke="#e63a4d" stroke-width="1" stroke-opacity="0.8"/>
<rect x="978.50" y="456.4" width="5" height="16.7" fill="#e63a4d"/>
<line x1="987.96" x2="987.96" y1="467.1" y2="527.8" stroke="#e63a4d" stroke-width="1" stroke-opacity="0.8"/>
<rect x="985.46" y="473.9" width="5" height="47.5" fill="#e63a4d"/>
<line x1="994.92" x2="994.92" y1="521.4" y2="573.9" stroke="#e63a4d" stroke-width="1" stroke-opacity="0.8"/>
<rect x="992.42" y="521.4" width="5" height="23.7" fill="#e63a4d"/>
<line x1="1001.88" x2="1001.88" y1="539.2" y2="587.6" stroke="#e63a4d" stroke-width="1" stroke-opacity="0.8"/>
<rect x="999.38" y="545.5" width="5" height="42.1" fill="#e63a4d"/>
<line x1="1008.84" x2="1008.84" y1="586.4" y2="630.2" stroke="#2f9684" stroke-width="1" stroke-opacity="0.8"/>
<rect x="1006.34" y="589.1" width="5" height="1.5" fill="#1d857a"/>
<line x1="1015.80" x2="1015.80" y1="569.6" y2="612.7" stroke="#2f9684" stroke-width="1" stroke-opacity="0.8"/>
<rect x="1013.30" y="584.4" width="5" height="6.2" fill="#2269dc"/>
<line x1="1022.76" x2="1022.76" y1="545.1" y2="606.4" stroke="#2f9684" stroke-width="1" stroke-opacity="0.8"/>
<rect x="1020.26" y="572.1" width="5" height="12.5" fill="#2269dc"/>
<line x1="1029.72" x2="1029.72" y1="565.1" y2="601.4" stroke="#e63a4d" stroke-width="1" stroke-opacity="0.8"/>
<rect x="1027.22" y="572.5" width="5" height="1.3" fill="#e63a4d"/>
<line x1="1036.68" x2="1036.68" y1="572.1" y2="607.7" stroke="#e63a4d" stroke-width="1" stroke-opacity="0.8"/>
<rect x="1034.18" y="573.4" width="5" height="31.3" fill="#e63a4d"/>
<line x1="1043.64" x2="1043.64" y1="529.6" y2="607.7" stroke="#2f9684" stroke-width="1" stroke-opacity="0.8"/>
<rect x="1041.14" y="535.8" width="5" height="63.6" fill="#2269dc"/>
<line x1="1050.61" x2="1050.61" y1="522.6" y2="577.6" stroke="#2f9684" stroke-width="1" stroke-opacity="0.8"/>
<rect x="1048.11" y="524.8" width="5" height="11.6" fill="#2269dc"/>
<line x1="1057.57" x2="1057.57" y1="516.4" y2="545.2" stroke="#e63a4d" stroke-width="1" stroke-opacity="0.8"/>
<rect x="1055.07" y="527.9" width="5" height="13.5" fill="#e63a4d"/>
<line x1="1064.53" x2="1064.53" y1="516.4" y2="551.4" stroke="#2f9684" stroke-width="1" stroke-opacity="0.8"/>
<rect x="1062.03" y="527.0" width="5" height="13.6" fill="#2269dc"/>
<line x1="1071.49" x2="1071.49" y1="463.9" y2="527.7" stroke="#2f9684" stroke-width="1" stroke-opacity="0.8"/>
<rect x="1068.99" y="471.4" width="5" height="53.8" fill="#2269dc"/>
<line x1="1078.45" x2="1078.45" y1="455.1" y2="495.7" stroke="#2f9684" stroke-width="1" stroke-opacity="0.8"/>
<rect x="1075.95" y="465.1" width="5" height="11.8" fill="#2269dc"/>
<line x1="1085.41" x2="1085.41" y1="465.9" y2="499.7" stroke="#e63a4d" stroke-width="1" stroke-opacity="0.8"/>
<rect x="1082.91" y="465.9" width="5" height="22.3" fill="#e63a4d"/>
<line x1="1092.37" x2="1092.37" y1="478.9" y2="508.2" stroke="#2f9684" stroke-width="1" stroke-opacity="0.8"/>
<rect x="1089.87" y="484.7" width="5" height="3.5" fill="#2269dc"/>
<line x1="1099.33" x2="1099.33" y1="474.6" y2="502.7" stroke="#e63a4d" stroke-width="1" stroke-opacity="0.8"/>
<rect x="1096.83" y="489.7" width="5" height="9.2" fill="#e63a4d"/>
<line x1="1106.29" x2="1106.29" y1="476.4" y2="512.0" stroke="#e63a4d" stroke-width="1" stroke-opacity="0.8"/>
<rect x="1103.79" y="497.6" width="5" height="12.2" fill="#e63a4d"/>
<line x1="1113.25" x2="1113.25" y1="482.7" y2="566.4" stroke="#2f9684" stroke-width="1" stroke-opacity="0.8"/>
<rect x="1110.75" y="485.2" width="5" height="58.4" fill="#2269dc"/>
<line x1="1120.21" x2="1120.21" y1="466.8" y2="514.9" stroke="#2f9684" stroke-width="1" stroke-opacity="0.8"/>
<rect x="1117.71" y="470.3" width="5" height="19.4" fill="#2269dc"/>
<rect x="928.8" y="528.3" width="62.6" height="14.3" rx="2.5" fill="#f06a77"/>
<text x="960.1" y="538.9" text-anchor="middle" class="plab">Left Shoulder</text>
<rect x="994.6" y="636.4" width="28.0" height="14.1" rx="2.5" fill="#f06a77"/>
<text x="1008.6" y="646.9" text-anchor="middle" class="plab">Head</text>
<rect x="1078.2" y="572.1" width="70.1" height="14.6" rx="2.5" fill="#f06a77"/>
<text x="1113.2" y="582.8" text-anchor="middle" class="plab">Right Shoulder</text>
</svg>
<!-- header -->
<svg class="abs" style="left:8px;top:5px" width="17" height="16" viewBox="0 0 17 16">
 <defs><clipPath id="cus"><circle cx="10.9" cy="5.1" r="4.3"/></clipPath><clipPath id="cuk"><circle cx="5.8" cy="10.15" r="4.6"/></clipPath></defs>
 <g clip-path="url(#cus)"><rect x="6" y="0" width="10" height="10" fill="#f7d9de"/><path d="M6 1.6h10M6 3.6h10M6 5.6h10M6 7.6h10M6 9.4h10" stroke="#df4f68" stroke-width="1.1"/><rect x="6" y="0" width="5.6" height="5.6" fill="#3f7bd0"/></g>
 <circle cx="5.8" cy="10.15" r="5.5" fill="#fff"/>
 <g clip-path="url(#cuk)"><rect x="0" y="5" width="12" height="11" fill="#6a66ad"/>
 <path d="M1.5 5.85l8.6 8.6M10.1 5.85l-8.6 8.6" stroke="#f3d5dc" stroke-width="1.9"/><path d="M1.5 5.85l8.6 8.6M10.1 5.85l-8.6 8.6" stroke="#dc4b62" stroke-width="0.8"/>
 <path d="M5.8 5v11M0 10.15h12" stroke="#f6dde2" stroke-width="3"/><path d="M5.8 5v11M0 10.15h12" stroke="#dc4b62" stroke-width="1.8"/></g>
</svg>
<div class="abs title">British Pound / U.S. Dollar · 1D · OANDA</div>
<svg class="abs" style="left:257.5px;top:6.5px" width="14" height="14"><circle cx="7" cy="7" r="6.2" fill="#d9f2ec"/><circle cx="7" cy="7" r="3" fill="#17a086"/></svg>
<div class="abs ohlc" style="left:283.5px">O</div><div class="abs ohlc" style="left:293.5px"><b>1.24391</b></div>
<div class="abs ohlc" style="left:337.2px">H</div><div class="abs ohlc" style="left:346.5px"><b>1.24933</b></div>
<div class="abs ohlc" style="left:390.6px">L</div><div class="abs ohlc" style="left:398px"><b>1.23793</b></div>
<div class="abs ohlc" style="left:441.7px">C</div><div class="abs ohlc" style="left:451px"><b>1.24850</b></div>
<div class="abs ohlc" style="left:495px">Vol</div><div class="abs ohlc" style="left:510.8px"><b>229.56K</b></div>
<div class="abs leg" style="left:9.5px;top:28.3px">EMA 50 close</div><div class="abs leg" style="left:80.6px;top:28.2px;font-size:10.2px;letter-spacing:0.36px;color:#5b82e0">1.25085</div>
<div class="abs leg" style="left:9.5px;top:46.6px;font-size:10.15px;letter-spacing:0.28px">Ichimoku 9 26 52 26</div>
<svg class="abs" style="left:112px;top:42.8px" width="15" height="15" viewBox="0 0 15 15"><circle cx="7.5" cy="7.5" r="6.8" fill="#ece0fb"/>
 <path d="M3.9 6.6a3.8 3.8 0 0 1 6.9-1.3M11.1 8.4a3.8 3.8 0 0 1-6.9 1.3" fill="none" stroke="#5f37d8" stroke-width="1.4"/><path d="M11.6 3.6v2.6h-2.6zM3.4 11.4v-2.6h2.6z" fill="#5f37d8"/></svg>
<div class="abs" style="left:9px;top:61.5px;width:22.5px;height:15px;border:1px solid #d9dce2;border-radius:2px;box-sizing:border-box;background:#fff"></div>
<svg class="abs" style="left:15.7px;top:65.3px" width="9" height="7" viewBox="0 0 9 7"><path d="M1.5 5l3-3 3 3" fill="none" stroke="#333" stroke-width="1.2"/></svg>
<!-- USD -->
<div class="abs" style="left:1301.3px;top:4.1px;width:59px;height:19.5px;border:1px solid #eff0f3;border-radius:3px;box-sizing:border-box;background:#fff"></div>
<div class="abs" style="left:1304.2px;top:10.2px;font-size:9.3px;letter-spacing:-0.15px;color:#2a2d35">USD</div>
<svg class="abs" style="left:1352px;top:12px" width="7" height="5" viewBox="0 0 7 5"><path d="M1.3 1.3l2.2 1.9 2.2-1.9" fill="none" stroke="#333" stroke-width="1.2"/></svg>
<div class="abs ax" style="top:36.2px">1.35000</div>
<div class="abs ax" style="top:78.4px">1.34000</div>
<div class="abs ax" style="top:120.7px">1.33000</div>
<div class="abs ax" style="top:162.9px">1.32000</div>
<div class="abs ax" style="top:205.1px">1.31000</div>
<div class="abs ax" style="top:247.4px">1.30000</div>
<div class="abs ax" style="top:289.6px">1.29000</div>
<div class="abs ax" style="top:331.8px">1.28000</div>
<div class="abs ax" style="top:374.0px">1.27000</div>
<div class="abs ax" style="top:416.3px">1.26000</div>
<div class="abs ax" style="top:458.5px">1.25000</div>
<div class="abs ax" style="top:500.7px">1.24000</div>
<div class="abs ax" style="top:543.0px">1.23000</div>
<div class="abs ax" style="top:585.2px">1.22000</div>
<div class="abs ax" style="top:627.4px">1.21000</div>
<div class="abs ax" style="top:669.6px">1.20000</div>
<div class="abs tm" style="left:40.6px;">Jul</div>
<div class="abs tm" style="left:197.5px;">Aug</div>
<div class="abs tm" style="left:351px;">Sep</div>
<div class="abs tm" style="left:497.5px;">Oct</div>
<div class="abs tm" style="left:657.5px;">Nov</div>
<div class="abs tm" style="left:802.5px;">Dec</div>
<div class="abs tm" style="left:944.6px;font-weight:bold;font-size:12.4px;letter-spacing:1.05px;top:697px;">2025</div>
<div class="abs tm" style="left:1103px;">Feb</div>
<div class="abs tm" style="left:1242.5px;">Mar</div>
<svg class="abs" style="left:11px;top:666px" width="24" height="13" viewBox="0 0 24 13"><rect x="0.2" y="0.4" width="10.9" height="4.4" fill="#1a1a1a"/><rect x="5.1" y="0.4" width="6" height="11.3" fill="#1a1a1a"/><circle cx="13.85" cy="2.5" r="1.75" fill="#1a1a1a"/><polygon points="16.7,0.4 23.6,0.4 19.4,11.7 13.7,11.7" fill="#1a1a1a"/></svg>
<svg class="abs" style="left:1325px;top:697px" width="13" height="13" viewBox="0 0 13 13"><path d="M4 2h4.9l2.5 4.3-2.5 4.3H4L1.5 6.3z" fill="none" stroke="#3a3a3a" stroke-width="1.15" stroke-linejoin="round"/><circle cx="6.45" cy="6.3" r="1.5" fill="none" stroke="#3a3a3a" stroke-width="1"/></svg>
</body></html>
